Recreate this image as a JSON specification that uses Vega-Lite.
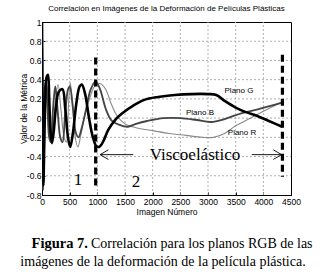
{
  "$schema": "https://vega.github.io/schema/vega-lite/v6.json",
  "width": 249,
  "height": 173,
  "autosize": {"type": "none"},
  "padding": {"left": 42, "top": 22, "right": 32, "bottom": 81},
  "background": "white",
  "title": {
    "text": "Correlación en Imágenes de la Deformación de Películas Plásticas",
    "font": "Liberation Sans, Arial",
    "fontSize": 8,
    "fontWeight": "normal",
    "color": "#000",
    "offset": 5
  },
  "config": {
    "view": {"stroke": "#000", "strokeWidth": 1},
    "axis": {
      "labelFont": "Liberation Sans, Arial",
      "titleFont": "Liberation Sans, Arial",
      "labelFontSize": 8.5,
      "titleFontSize": 8.5,
      "titleFontWeight": "normal",
      "labelColor": "#000",
      "titleColor": "#000",
      "domainColor": "#000",
      "tickColor": "#000",
      "tickSize": -3,
      "labelPadding": 5,
      "labelOverlap": false,
      "labelFlush": false,
      "grid": false
    }
  },
  "datasets": {
    "vgrid": [
      {"x": 500, "y": -0.8, "y2": 1}, {"x": 1000, "y": -0.8, "y2": 1}, {"x": 1500, "y": -0.8, "y2": 1}, {"x": 2000, "y": -0.8, "y2": 1}, {"x": 2500, "y": -0.8, "y2": 1}, {"x": 3000, "y": -0.8, "y2": 1}, {"x": 3500, "y": -0.8, "y2": 1}, {"x": 4000, "y": -0.8, "y2": 1}
    ],
    "hgrid": [
      {"x": 0, "x2": 4500, "y": -0.6}, {"x": 0, "x2": 4500, "y": -0.4}, {"x": 0, "x2": 4500, "y": -0.2}, {"x": 0, "x2": 4500, "y": 0}, {"x": 0, "x2": 4500, "y": 0.2}, {"x": 0, "x2": 4500, "y": 0.4}, {"x": 0, "x2": 4500, "y": 0.6}, {"x": 0, "x2": 4500, "y": 0.8}
    ],
    "curves": [
      {"x": 0, "y": 0.9, "s": "R"}, {"x": 8, "y": -0.3, "s": "R"}, {"x": 15, "y": -0.7, "s": "R"}, {"x": 30, "y": -0.4, "s": "R"}, {"x": 50, "y": 0.2, "s": "R"}, {"x": 80, "y": 0.4, "s": "R"}, {"x": 110, "y": 0.2, "s": "R"}, {"x": 140, "y": -0.15, "s": "R"}, {"x": 180, "y": -0.2, "s": "R"}, {"x": 230, "y": 0.1, "s": "R"}, {"x": 290, "y": 0.35, "s": "R"}, {"x": 340, "y": 0.1, "s": "R"}, {"x": 400, "y": -0.2, "s": "R"}, {"x": 440, "y": -0.25, "s": "R"}, {"x": 480, "y": 0.15, "s": "R"}, {"x": 510, "y": 0.37, "s": "R"}, {"x": 545, "y": 0.2, "s": "R"}, {"x": 600, "y": -0.2, "s": "R"}, {"x": 650, "y": -0.3, "s": "R"}, {"x": 700, "y": -0.18, "s": "R"}, {"x": 780, "y": 0.05, "s": "R"}, {"x": 860, "y": 0.2, "s": "R"}, {"x": 950, "y": 0.33, "s": "R"}, {"x": 1050, "y": 0.36, "s": "R"}, {"x": 1150, "y": 0.3, "s": "R"}, {"x": 1250, "y": 0.15, "s": "R"}, {"x": 1350, "y": 0.03, "s": "R"}, {"x": 1500, "y": -0.06, "s": "R"}, {"x": 1700, "y": -0.1, "s": "R"}, {"x": 2000, "y": -0.13, "s": "R"}, {"x": 2300, "y": -0.16, "s": "R"}, {"x": 2600, "y": -0.18, "s": "R"}, {"x": 2900, "y": -0.2, "s": "R"}, {"x": 3100, "y": -0.2, "s": "R"}, {"x": 3300, "y": -0.16, "s": "R"}, {"x": 3500, "y": -0.08, "s": "R"}, {"x": 3700, "y": -0.02, "s": "R"}, {"x": 3900, "y": 0.04, "s": "R"}, {"x": 4100, "y": 0.1, "s": "R"}, {"x": 4340, "y": 0.17, "s": "R"},
      {"x": 0, "y": 1.0, "s": "B"}, {"x": 5, "y": 0.3, "s": "B"}, {"x": 12, "y": -0.5, "s": "B"}, {"x": 20, "y": -0.75, "s": "B"}, {"x": 35, "y": -0.2, "s": "B"}, {"x": 50, "y": 0.3, "s": "B"}, {"x": 70, "y": 0.38, "s": "B"}, {"x": 100, "y": 0.1, "s": "B"}, {"x": 130, "y": -0.2, "s": "B"}, {"x": 160, "y": -0.25, "s": "B"}, {"x": 200, "y": 0.1, "s": "B"}, {"x": 240, "y": 0.33, "s": "B"}, {"x": 280, "y": 0.1, "s": "B"}, {"x": 330, "y": -0.2, "s": "B"}, {"x": 370, "y": -0.25, "s": "B"}, {"x": 420, "y": 0.05, "s": "B"}, {"x": 470, "y": 0.3, "s": "B"}, {"x": 500, "y": 0.33, "s": "B"}, {"x": 560, "y": 0.1, "s": "B"}, {"x": 610, "y": -0.15, "s": "B"}, {"x": 660, "y": -0.2, "s": "B"}, {"x": 720, "y": -0.1, "s": "B"}, {"x": 800, "y": 0.1, "s": "B"}, {"x": 880, "y": 0.3, "s": "B"}, {"x": 970, "y": 0.38, "s": "B"}, {"x": 1050, "y": 0.3, "s": "B"}, {"x": 1150, "y": 0.1, "s": "B"}, {"x": 1250, "y": -0.02, "s": "B"}, {"x": 1400, "y": -0.07, "s": "B"}, {"x": 1550, "y": -0.09, "s": "B"}, {"x": 1700, "y": -0.06, "s": "B"}, {"x": 1900, "y": -0.03, "s": "B"}, {"x": 2200, "y": 0.0, "s": "B"}, {"x": 2500, "y": 0.0, "s": "B"}, {"x": 2800, "y": -0.02, "s": "B"}, {"x": 3050, "y": -0.04, "s": "B"}, {"x": 3300, "y": -0.01, "s": "B"}, {"x": 3600, "y": 0.05, "s": "B"}, {"x": 3900, "y": 0.09, "s": "B"}, {"x": 4340, "y": 0.16, "s": "B"},
      {"x": 0, "y": 1.0, "s": "G"}, {"x": 5, "y": 0.6, "s": "G"}, {"x": 15, "y": -0.2, "s": "G"}, {"x": 25, "y": -0.7, "s": "G"}, {"x": 40, "y": -0.3, "s": "G"}, {"x": 60, "y": 0.2, "s": "G"}, {"x": 80, "y": 0.42, "s": "G"}, {"x": 108, "y": 0.45, "s": "G"}, {"x": 130, "y": 0.2, "s": "G"}, {"x": 155, "y": -0.15, "s": "G"}, {"x": 180, "y": -0.26, "s": "G"}, {"x": 210, "y": -0.15, "s": "G"}, {"x": 250, "y": 0.1, "s": "G"}, {"x": 300, "y": 0.27, "s": "G"}, {"x": 370, "y": 0.3, "s": "G"}, {"x": 420, "y": 0.1, "s": "G"}, {"x": 470, "y": -0.2, "s": "G"}, {"x": 510, "y": -0.3, "s": "G"}, {"x": 560, "y": -0.15, "s": "G"}, {"x": 620, "y": 0.15, "s": "G"}, {"x": 680, "y": 0.33, "s": "G"}, {"x": 720, "y": 0.35, "s": "G"}, {"x": 780, "y": 0.25, "s": "G"}, {"x": 850, "y": 0.0, "s": "G"}, {"x": 920, "y": -0.2, "s": "G"}, {"x": 980, "y": -0.29, "s": "G"}, {"x": 1030, "y": -0.3, "s": "G"}, {"x": 1100, "y": -0.25, "s": "G"}, {"x": 1200, "y": -0.12, "s": "G"}, {"x": 1320, "y": -0.02, "s": "G"}, {"x": 1450, "y": 0.05, "s": "G"}, {"x": 1650, "y": 0.13, "s": "G"}, {"x": 1850, "y": 0.19, "s": "G"}, {"x": 2100, "y": 0.22, "s": "G"}, {"x": 2400, "y": 0.24, "s": "G"}, {"x": 2700, "y": 0.25, "s": "G"}, {"x": 3000, "y": 0.25, "s": "G"}, {"x": 3150, "y": 0.24, "s": "G"}, {"x": 3300, "y": 0.18, "s": "G"}, {"x": 3500, "y": 0.11, "s": "G"}, {"x": 3700, "y": 0.06, "s": "G"}, {"x": 3900, "y": 0.02, "s": "G"}, {"x": 4100, "y": -0.03, "s": "G"}, {"x": 4340, "y": -0.09, "s": "G"}
    ],
    "dashes": [
      {"x": 970, "y": 0.63, "y2": -0.73},
      {"x": 4345, "y": 0.66, "y2": -0.61}
    ],
    "arrows": [
      {"g": "a1", "o": 1, "x": 1650, "y": -0.38}, {"g": "a1", "o": 2, "x": 1050, "y": -0.38},
      {"g": "a1h", "o": 1, "x": 1200, "y": -0.33}, {"g": "a1h", "o": 2, "x": 1050, "y": -0.38}, {"g": "a1h", "o": 3, "x": 1200, "y": -0.43},
      {"g": "a2", "o": 1, "x": 3790, "y": -0.38}, {"g": "a2", "o": 2, "x": 4330, "y": -0.38},
      {"g": "a2h", "o": 1, "x": 4180, "y": -0.33}, {"g": "a2h", "o": 2, "x": 4330, "y": -0.38}, {"g": "a2h", "o": 3, "x": 4180, "y": -0.43}
    ],
    "serifnotes": [
      {"x": 650, "y": -0.64, "label": "1"},
      {"x": 1700, "y": -0.66, "label": "2"},
      {"x": 2765, "y": -0.38, "label": "Viscoelástico"}
    ],
    "planos": [
      {"x": 3560, "y": 0.28, "label": "Plano G"},
      {"x": 2855, "y": 0.05, "label": "Plano B"},
      {"x": 3615, "y": -0.15, "label": "Plano R"}
    ],
    "capbold": [
      {"x": 830, "y": -1.31, "label": "Figura 7."}
    ],
    "caprest": [
      {"x": 4890, "y": -1.31, "label": "Correlación para los planos RGB de las"}
    ],
    "capline2": [
      {"x": 2187, "y": -1.5, "label": "imágenes de la deformación de la película plástica."}
    ]
  },
  "encoding": {
    "x": {
      "field": "x", "type": "quantitative",
      "scale": {"domain": [0, 4500], "nice": false, "zero": false},
      "axis": {"values": [0, 500, 1000, 1500, 2000, 2500, 3000, 3500, 4000, 4500], "format": "d", "title": "Imagen Número", "titlePadding": 2}
    },
    "y": {
      "field": "y", "type": "quantitative",
      "scale": {"domain": [-0.8, 1], "nice": false, "zero": false},
      "axis": {"values": [-0.8, -0.6, -0.4, -0.2, 0, 0.2, 0.4, 0.6, 0.8, 1], "labelExpr": "replace(format(datum.value, '~g'), '−', '-')", "title": "Valor de la Métrica", "titlePadding": -2, "labelPadding": 4}
    }
  },
  "layer": [
    {
      "data": {"name": "vgrid"},
      "mark": {"type": "rule", "color": "#b0b0b0", "strokeWidth": 1, "strokeDash": [2, 2]},
      "encoding": {"y2": {"field": "y2"}}
    },
    {
      "data": {"name": "hgrid"},
      "mark": {"type": "rule", "color": "#b0b0b0", "strokeWidth": 1, "strokeDash": [2, 2]},
      "encoding": {"x2": {"field": "x2"}}
    },
    {
      "data": {"name": "curves"},
      "mark": {"type": "line", "interpolate": "catmull-rom", "clip": true},
      "encoding": {
        "detail": {"field": "s"},
        "color": {"field": "s", "type": "nominal", "scale": {"domain": ["G", "B", "R"], "range": ["#000000", "#444444", "#8a8a8a"]}, "legend": null},
        "strokeWidth": {"field": "s", "type": "nominal", "scale": {"domain": ["G", "B", "R"], "range": [2.6, 1.1, 0.9]}, "legend": null}
      }
    },
    {
      "data": {"name": "dashes"},
      "mark": {"type": "rule", "color": "#000", "strokeWidth": 3.2, "strokeDash": [7, 4]},
      "encoding": {"y2": {"field": "y2"}}
    },
    {
      "data": {"name": "arrows"},
      "mark": {"type": "line", "color": "#000", "strokeWidth": 0.9},
      "encoding": {"detail": {"field": "g"}, "order": {"field": "o"}}
    },
    {
      "data": {"name": "serifnotes"},
      "mark": {"type": "text", "font": "Liberation Serif, Times New Roman", "fontSize": 17, "color": "#000", "baseline": "middle"},
      "encoding": {"text": {"field": "label"}}
    },
    {
      "data": {"name": "planos"},
      "mark": {"type": "text", "font": "Liberation Sans, Arial", "fontSize": 8, "color": "#000", "baseline": "middle"},
      "encoding": {"text": {"field": "label"}}
    },
    {
      "data": {"name": "capbold"},
      "mark": {"type": "text", "font": "Liberation Serif, Times New Roman", "fontSize": 14.5, "fontWeight": "bold", "color": "#000", "align": "right", "baseline": "middle"},
      "encoding": {"text": {"field": "label"}}
    },
    {
      "data": {"name": "caprest"},
      "mark": {"type": "text", "font": "Liberation Serif, Times New Roman", "fontSize": 14, "color": "#000", "align": "right", "baseline": "middle"},
      "encoding": {"text": {"field": "label"}}
    },
    {
      "data": {"name": "capline2"},
      "mark": {"type": "text", "font": "Liberation Serif, Times New Roman", "fontSize": 14, "color": "#000", "align": "center", "baseline": "middle"},
      "encoding": {"text": {"field": "label"}}
    }
  ]
}
